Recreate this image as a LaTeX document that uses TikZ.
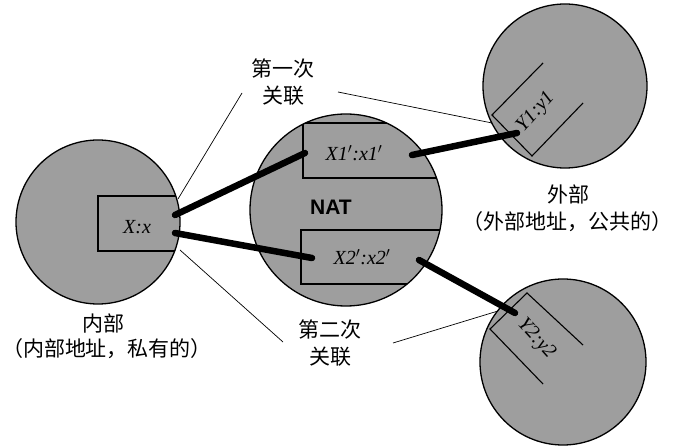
\documentclass[tikz,border=0pt]{standalone}
\usepackage{fontspec}
\setmainfont{Liberation Serif}
\newfontfamily\cjk{Noto Sans CJK SC}
\newfontfamily\natfont{Liberation Sans}
\definecolor{discgray}{gray}{0.62}
\newcommand{\pr}{\ensuremath{{}'}}
\begin{document}
\begin{tikzpicture}[x=1pt,y=-1pt,
  ball/.style={circle, draw=black, line width=1.3pt, fill=discgray, inner sep=0pt},
  boxline/.style={draw=black, line width=1.1pt},
  link/.style={line width=6.5pt, line cap=round},
  thinline/.style={line width=0.7pt},
  addr/.style={font=\fontsize{20}{22}\selectfont\itshape, inner sep=0pt},
  cjklabel/.style={font=\cjk\fontsize{21}{27}\selectfont, inner sep=0pt, align=center}]
\useasboundingbox (0,0) rectangle (678,446);
% discs
\node[ball, minimum size=164pt] (inner) at (98,222) {};
\node[ball, minimum size=192pt] (nat) at (346,210) {};
\node[ball, minimum size=164pt] (ext1) at (565,86) {};
\node[ball, minimum size=166pt] (ext2) at (563,362) {};
% boxes
\begin{scope}
  \clip (inner.center) circle[radius=82pt];
  \draw[boxline] (98,196) rectangle (200,251);
\end{scope}
\begin{scope}
  \clip (nat.center) circle[radius=96pt];
  \draw[boxline] (303,123) rectangle (460,178);
  \draw[boxline] (301,230) rectangle (460,284);
\end{scope}
\draw[boxline] (543,63) -- (492,115) -- (532,156) -- (583,103);
\draw[boxline] (583,345) -- (527,293) -- (490,329) -- (543,384);
% address texts
\node[addr] (xx) at (137,227) {X:x};
\node[addr] (x1) at (354,153) {X1\pr:x1\pr};
\node[addr] (x2) at (362,257) {X2\pr:x2\pr};
\node[addr, rotate=48] (y1) at (536,112) {Y1:y1};
\node[addr, rotate=-48] (y2) at (536,339) {Y2:y2};
\node[font=\natfont\bfseries\fontsize{21}{26}\selectfont, inner sep=0pt] (natlabel) at (331,207) {NAT};
% thick association links
\coordinate (xa) at (175,215);
\coordinate (xb) at (175,233);
\coordinate (x1l) at (305,153);
\coordinate (x1r) at (412,155);
\coordinate (x2l) at (312,258);
\coordinate (x2r) at (419,260);
\coordinate (y1e) at (517,133);
\coordinate (y2e) at (515,313);
\draw[link] (xa) -- (x1l);
\draw[link] (xb) -- (x2l);
\draw[link] (x1r) -- (y1e);
\draw[link] (x2r) -- (y2e);
% labels
\node[cjklabel] (first) at (283,82) {第一次\\关联};
\node[cjklabel] (second) at (330,343) {第二次\\关联};
\node[cjklabel] (inlab) at (103,324) {内部};
\node[cjklabel] (inlab2) at (107,349) {（内部地址，私有的）};
\node[cjklabel] (exlab) at (568,194) {外部};
\node[cjklabel] (exlab2) at (567,222) {（外部地址，公共的）};
% thin pointer lines
\coordinate (p1a) at (178,199);
\coordinate (p1b) at (242,93);
\coordinate (p2a) at (338,92);
\coordinate (p2b) at (492,123);
\coordinate (p3a) at (180,250);
\coordinate (p3b) at (283,342);
\coordinate (p4a) at (393,343);
\coordinate (p4b) at (498,311);
\draw[thinline] (p1a) -- (p1b);
\draw[thinline] (p2a) -- (p2b);
\draw[thinline] (p3a) -- (p3b);
\draw[thinline] (p4a) -- (p4b);
\end{tikzpicture}
\end{document}
